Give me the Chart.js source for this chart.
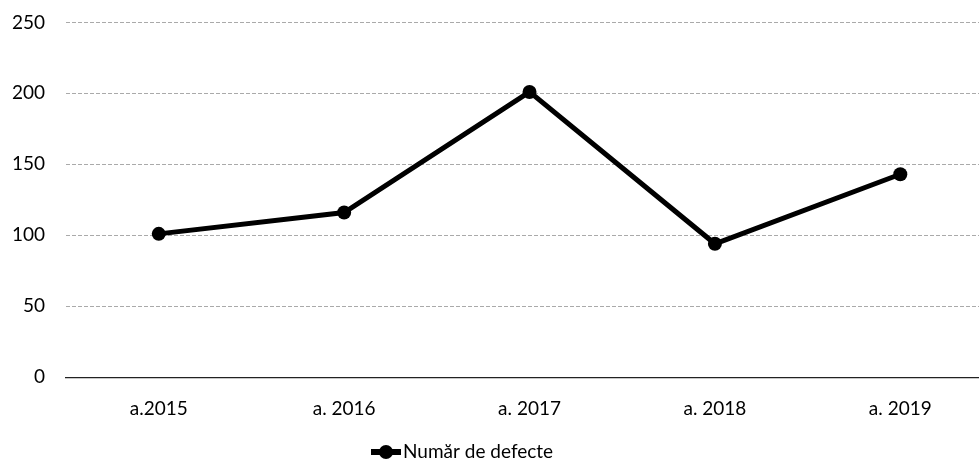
<!DOCTYPE html>
<html>
<head>
<meta charset="utf-8">
<script src="https://cdn.jsdelivr.net/npm/chart.js@4.4.1/dist/chart.umd.min.js"></script>
<style>
  html, body { margin: 0; padding: 0; background: #fff; overflow: hidden; }
  #wrap { position: relative; left: -20px; top: -10px; width: 1020px; height: 476px; }
</style>
</head>
<body>
<div id="wrap"><canvas id="c"></canvas></div>
<script>
// Number of defects per year
const categories = ['a.2015', 'a. 2016', 'a. 2017', 'a. 2018', 'a. 2019'];
const defects = [101, 116, 201, 94, 143];
const seriesName = 'Număr de defecte';
const yTicks = [0, 50, 100, 150, 200, 250];

const FONT = 'Lato, "DejaVu Sans", sans-serif';

// Legend drawn below the plot: a short thick line with a dot, then the series name
const lineLegend = {
  id: 'lineLegend',
  afterDraw(chart) {
    const ds = chart.data.datasets[0];
    const ctx = chart.ctx;
    const y = 462, x0 = 391, x1 = 421;
    ctx.save();
    ctx.strokeStyle = ds.borderColor;
    ctx.lineWidth = ds.borderWidth + 1;
    ctx.beginPath();
    ctx.moveTo(x0, y);
    ctx.lineTo(x1, y);
    ctx.stroke();
    ctx.fillStyle = ds.pointBackgroundColor;
    ctx.beginPath();
    ctx.arc((x0 + x1) / 2, y, ds.pointRadius, 0, Math.PI * 2);
    ctx.fill();
    ctx.fillStyle = '#000';
    ctx.font = '19px ' + FONT;
    ctx.textBaseline = 'middle';
    ctx.textAlign = 'left';
    ctx.fillText(ds.label, x1 + 2, y);
    ctx.restore();
  }
};

new Chart(document.getElementById('c'), {
  type: 'line',
  data: {
    labels: categories,
    datasets: [{
      label: seriesName,
      data: defects,
      borderColor: '#000',
      borderWidth: 5,
      pointRadius: 7,
      pointBackgroundColor: '#000',
      pointBorderColor: '#000',
      pointBorderWidth: 0,
      tension: 0,
      fill: false
    }]
  },
  options: {
    responsive: true,
    maintainAspectRatio: false,
    animation: false,
    events: [],
    layout: { padding: { left: 11, right: 1, top: 2, bottom: 26 } },
    plugins: {
      legend: { display: false },
      tooltip: { enabled: false }
    },
    scales: {
      x: {
        offset: true,
        grid: { display: false, drawTicks: false },
        border: { display: true, color: '#222', width: 1.2 },
        ticks: { color: '#000', padding: 20, font: { family: FONT, size: 19 } }
      },
      y: {
        min: yTicks[0],
        max: yTicks[yTicks.length - 1],
        afterBuildTicks(axis) { axis.ticks = yTicks.map(v => ({ value: v })); },
        grid: { color: '#aaa', lineWidth: 1, drawTicks: false },
        border: { display: false, dash: [4, 2] },
        ticks: { color: '#000', padding: 21, font: { family: FONT, size: 19 } }
      }
    }
  },
  plugins: [lineLegend]
});
</script>
</body>
</html>
